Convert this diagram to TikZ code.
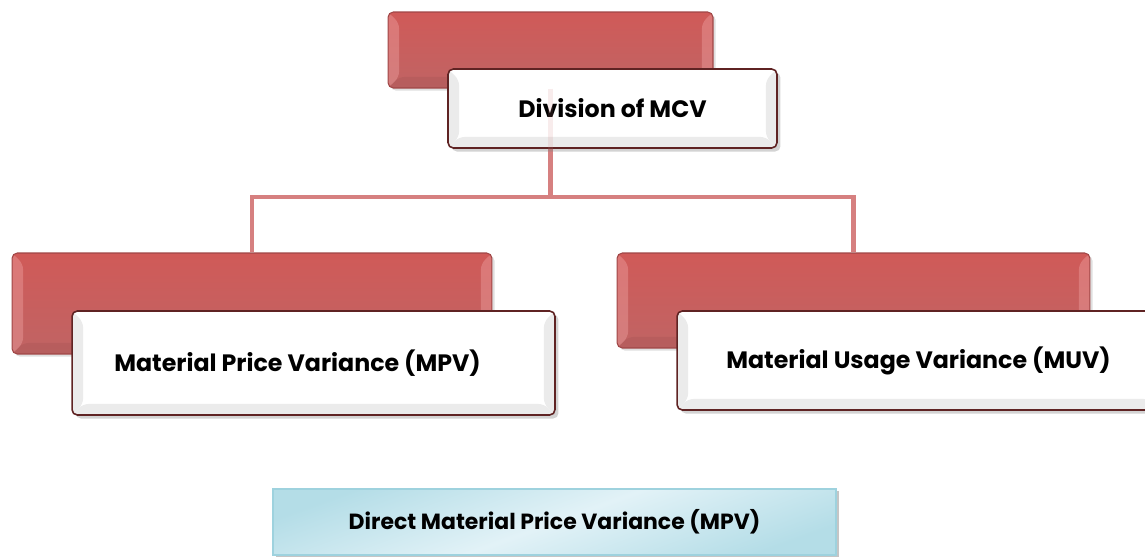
\documentclass[tikz,border=0pt]{standalone}
\usepackage{fontspec}
\setsansfont{Poppins}
\usetikzlibrary{shadows,backgrounds}
\definecolor{redtop}{RGB}{208,90,88}
\definecolor{redbot}{RGB}{192,100,100}
\definecolor{redline}{RGB}{160,70,70}
\definecolor{redbevel}{RGB}{240,165,165}
\definecolor{linkred}{RGB}{214,128,128}
\definecolor{whiteline}{RGB}{95,35,35}
\definecolor{bluefill}{RGB}{226,242,247}
\definecolor{bluedark}{RGB}{180,221,231}
\definecolor{blueline}{RGB}{158,210,222}

\begin{document}
\begin{tikzpicture}[x=0.02cm,y=-0.02cm,
  bevel/.style 2 args={path picture={
    \fill[#1] (path picture bounding box.north west) -- ++(0.22cm,-0.22cm) -- ([shift={(0.22cm,0.22cm)}]path picture bounding box.south west) -- (path picture bounding box.south west) -- cycle;
    \fill[#1] (path picture bounding box.north east) -- ++(-0.22cm,-0.22cm) -- ([shift={(-0.22cm,0.22cm)}]path picture bounding box.south east) -- (path picture bounding box.south east) -- cycle;
    \fill[#2] (path picture bounding box.south west) -- ++(0.22cm,0.22cm) -- ([shift={(-0.22cm,0.22cm)}]path picture bounding box.south east) -- (path picture bounding box.south east) -- cycle;
  }},
  redbox/.style={draw=redline,line width=0.6pt,rounded corners=3pt,top color=redtop,bottom color=redbot,
    bevel={redbevel,opacity=0.4}{black,opacity=0.05},drop shadow={opacity=0.25,shadow xshift=1.5pt,shadow yshift=-1.5pt}},
  whitebox/.style={draw=whiteline,line width=0.9pt,rounded corners=3pt,fill=white,
    bevel={black!8}{black!8},drop shadow={opacity=0.35,shadow xshift=2pt,shadow yshift=-2pt},
    font=\sffamily\bfseries\fontsize{13.5}{16}\selectfont},
  bluebox/.style={draw=blueline,line width=1.2pt,top color=bluedark,bottom color=bluedark,middle color=bluefill,shading angle=20,
    drop shadow={fill=black!45,opacity=0.5,shadow xshift=1.5pt,shadow yshift=-1pt},
    font=\sffamily\bfseries\fontsize{12.5}{15}\selectfont},
  link/.style={draw=linkred,line width=2.3pt}]
\useasboundingbox (0,0) rectangle (1145,557);
\node[redbox,minimum width=6.5cm,minimum height=1.52cm] (mcvback) at (550.5,50) {};
\node[whitebox,minimum width=6.58cm,minimum height=1.58cm] (mcv) at (612.5,108.5) {Division of MCV};
\node[redbox,minimum width=9.6cm,minimum height=2.02cm] (mpvback) at (252,303.5) {};
\node[whitebox,minimum width=9.66cm,minimum height=2.08cm] (mpv) at (313.5,363) {Material Price Variance (MPV)\hspace*{0.64cm}};
\node[redbox,minimum width=9.46cm,minimum height=1.9cm] (muvback) at (853.5,300.5) {};
\node[whitebox,minimum width=9.66cm,minimum height=1.98cm] (muv) at (918.5,360.5) {Material Usage Variance (MUV)};
\node[bluebox,minimum width=11.26cm,minimum height=1.32cm] (dmpv) at (554.5,522) {Direct Material Price Variance (MPV)};
\coordinate (fork) at (550.5,197);
\begin{scope}[on background layer]
\draw[link] (mcvback.south) -- (fork);
\draw[link] (mpvback.north) |- (fork) -| (muvback.north);
\end{scope}
\draw[link,opacity=0.15] (mcvback.south) -- (mcvback.south |- mcv.south);
\end{tikzpicture}
\end{document}
